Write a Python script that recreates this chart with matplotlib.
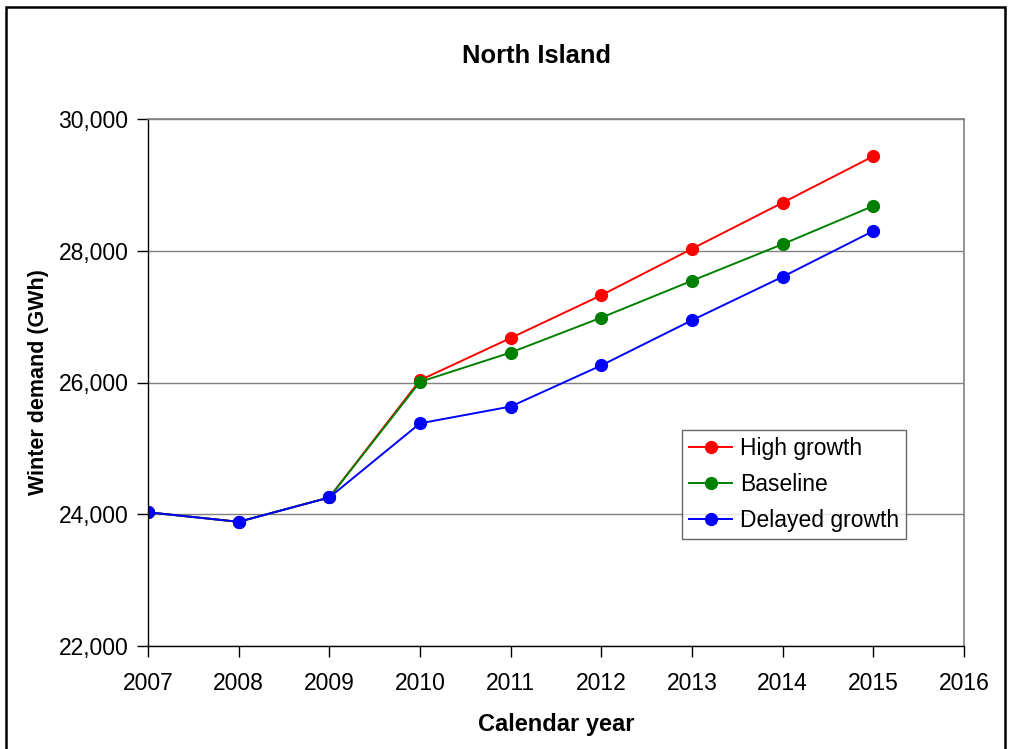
import matplotlib
matplotlib.use("Agg")
import matplotlib.pyplot as plt
from matplotlib.patches import Rectangle
from matplotlib.ticker import FuncFormatter

plt.rcParams['font.family'] = ['Liberation Sans', 'DejaVu Sans']

years = [2007, 2008, 2009, 2010, 2011, 2012, 2013, 2014, 2015]
high_growth = [24030, 23885, 24255, 26035, 26675, 27325, 28030, 28730, 29435]
baseline = [24030, 23885, 24255, 26010, 26455, 26985, 27545, 28100, 28680]
delayed_growth = [24030, 23885, 24255, 25380, 25635, 26260, 26945, 27605, 28300]

series_names = ["High growth", "Baseline", "Delayed growth"]
series_colors = ["#ff0000", "#008000", "#0000ff"]
x_ticks = list(range(2007, 2017))
y_ticks = [22000, 24000, 26000, 28000, 30000]

W, H = 1009, 749
fig = plt.figure(figsize=(W / 100, H / 100), dpi=100)
ax = fig.add_axes([148 / W, 1 - 646 / H, (964 - 148) / W, (646 - 119) / H])

for vals, name, col in zip([high_growth, baseline, delayed_growth], series_names, series_colors):
    ax.plot(years, vals, color=col, lw=1.4, marker='o', ms=8.5, label=name)

ax.set_xlim(2007, 2016)
ax.set_ylim(22000, 30000)
ax.set_xticks(x_ticks)
ax.set_yticks(y_ticks)
ax.yaxis.set_major_formatter(FuncFormatter(lambda v, p: f"{int(v):,}"))
ax.grid(axis='y', color='#808080', lw=1.0)
ax.set_axisbelow(True)

for s in ['top', 'right']:
    ax.spines[s].set_color('#808080')
    ax.spines[s].set_linewidth(1.2)
for s in ['left', 'bottom']:
    ax.spines[s].set_color('black')
    ax.spines[s].set_linewidth(1.0)

ax.tick_params(axis='both', direction='out', length=8, width=1, labelsize=16.5, colors='black')
ax.tick_params(axis='x', pad=11)
ax.tick_params(axis='y', pad=6)

ax.set_xlabel("Calendar year", fontsize=17, fontweight='bold', labelpad=13)
ax.set_ylabel("Winter demand (GWh)", fontsize=15.5, fontweight='bold', labelpad=7)
fig.text(536 / W, 1 - 56 / H, "North Island", fontsize=18.4, fontweight='bold',
         ha='center', va='center')

leg = ax.legend(loc='upper left', bbox_to_anchor=((682 - 148) / (964 - 148), (646 - 430) / (646 - 119)),
                fontsize=16.5, frameon=True, fancybox=False, edgecolor='#404040',
                handlelength=1.9, handletextpad=0.34, borderpad=0.3, labelspacing=0.58,
                borderaxespad=0)
leg.get_frame().set_linewidth(1.0)

fig.patches.append(Rectangle((6 / W, -0.01), (1005 - 6) / W, 1 - 7 / H + 0.01,
                             transform=fig.transFigure, fill=False, edgecolor='black', lw=1.8))

fig.savefig("out.png", dpi=100)
